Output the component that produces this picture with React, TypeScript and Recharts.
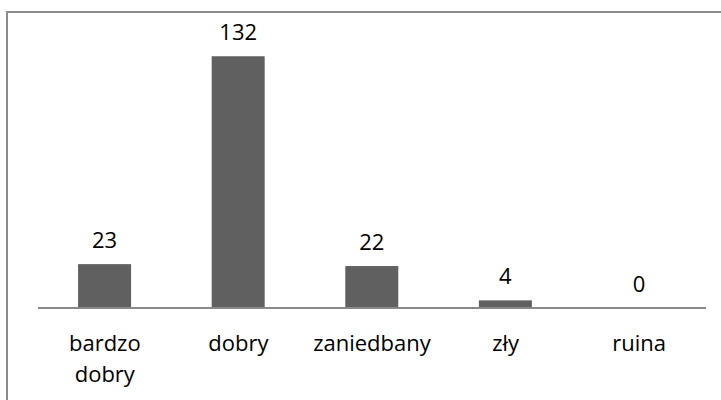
import { Bar, BarChart, XAxis, YAxis } from "recharts";

const categories = ["bardzo dobry", "dobry", "zaniedbany", "zły", "ruina"];
const counts = [23, 132, 22, 4, 0];

const data = categories.map((name, i) => ({ name, count: counts[i] }));

const font = "'Open Sans', sans-serif";

function CategoryTick(props: any) {
  const { x, y, payload } = props;
  const lines = payload.value === "bardzo dobry" ? ["bardzo", "dobry"] : [payload.value];
  return (
    <g>
      {lines.map((line: string, i: number) => (
        <text
          key={line}
          x={x}
          y={y + 35 + i * 31}
          textAnchor="middle"
          fontFamily={font}
          fontSize={22}
          fill="#000"
        >
          {line}
        </text>
      ))}
    </g>
  );
}

// draws the bar and its value above it, also for zero-height bars
function BarWithLabel(props: any) {
  const { x, y, width, height, fill, value } = props;
  const v = Array.isArray(value) ? value[1] - value[0] : value;
  return (
    <g>
      {height > 0 && <rect x={x} y={y} width={width} height={height} fill={fill} />}
      <text
        x={x + width / 2}
        y={y - 16}
        textAnchor="middle"
        fontFamily={font}
        fontSize={22}
        fill="#000"
      >
        {v}
      </text>
    </g>
  );
}

export default function App() {
  return (
    <div
      style={{
        position: "absolute",
        left: 0,
        top: 0,
        width: 721,
        height: 400,
        overflow: "hidden",
        background: "#fff",
      }}
    >
      <div
        style={{
          position: "absolute",
          left: 6,
          top: 11,
          width: 730,
          height: 410,
          border: "2px solid #8c8c8c",
        }}
      />
      <div style={{ position: "absolute", left: 0, top: 0 }}>
        <BarChart
          width={721}
          height={400}
          data={data}
          margin={{ top: 41, right: 15, left: 38, bottom: 0 }}
          barCategoryGap="30%"
        >
          <XAxis
            dataKey="name"
            height={92}
            tickLine={false}
            axisLine={{ stroke: "#898989", strokeWidth: 2 }}
            tick={<CategoryTick />}
            interval={0}
          />
          <YAxis hide domain={[0, 140]} />
          <Bar
            dataKey="count"
            fill="#606060"
            isAnimationActive={false}
            minPointSize={0.01}
            shape={<BarWithLabel />}
          />
        </BarChart>
      </div>
    </div>
  );
}
